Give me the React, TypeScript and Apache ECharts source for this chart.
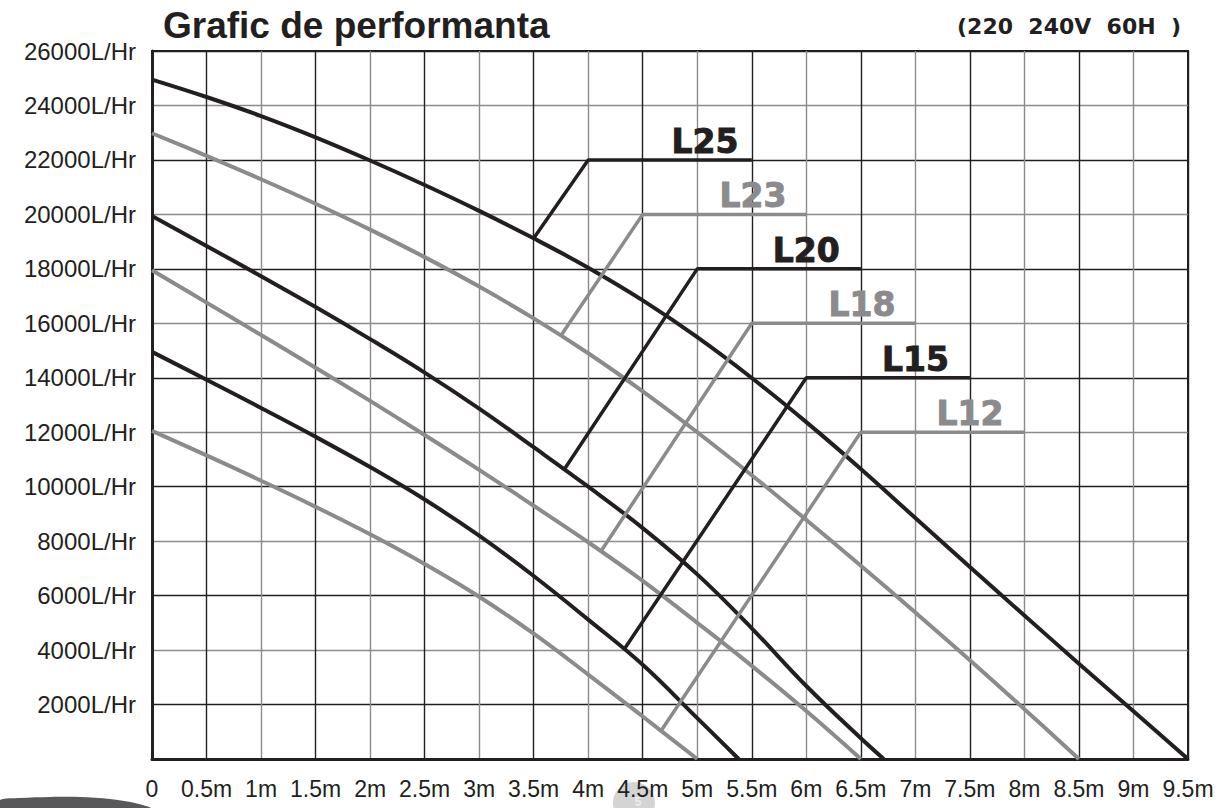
import React, { useEffect, useRef } from 'react';
import * as echarts from 'echarts';

const BLACK = '#231f20';
const GREY = '#8b8b8d';

// Tick labels
const xTickLabels = ['0', '0.5m', '1m', '1.5m', '2m', '2.5m', '3m', '3.5m', '4m', '4.5m', '5m', '5.5m', '6m', '6.5m', '7m', '7.5m', '8m', '8.5m', '9m', '9.5m'];
const yTickLabels = ['', '2000L/Hr', '4000L/Hr', '6000L/Hr', '8000L/Hr', '10000L/Hr', '12000L/Hr', '14000L/Hr', '16000L/Hr', '18000L/Hr', '20000L/Hr', '22000L/Hr', '24000L/Hr', '26000L/Hr'];

// Performance curves: head (m) and flow (L/Hr)
const l25Head = [0, 0.5, 1, 1.5, 2, 2.5, 3, 3.5, 4, 4.5, 5, 5.5, 6, 6.5, 7, 7.5, 8, 8.5, 9, 9.5];
const l25Flow = [24950, 24310, 23610, 22830, 21980, 21080, 20130, 19120, 18040, 16840, 15490, 13990, 12370, 10650, 8850, 7050, 5270, 3500, 1750, 0];
const l23Head = [0, 0.5, 1, 1.5, 2, 2.5, 3, 3.5, 4, 4.5, 5, 5.5, 6, 6.5, 7, 7.5, 8, 8.5];
const l23Flow = [22980, 22150, 21290, 20390, 19440, 18430, 17350, 16180, 14900, 13500, 12000, 10420, 8780, 7100, 5380, 3630, 1830, 0];
const l20Head = [0, 0.5, 1, 1.5, 2, 2.5, 3, 3.5, 4, 4.5, 5, 5.5, 6, 6.5, 6.71];
const l20Flow = [19940, 18840, 17730, 16600, 15420, 14190, 12870, 11450, 10000, 8480, 6780, 4800, 2680, 760, 0];
const l18Head = [0, 0.5, 1, 1.5, 2, 2.5, 3, 3.5, 4, 4.5, 5, 5.5, 6, 6.5];
const l18Flow = [17950, 16760, 15570, 14370, 13150, 11900, 10620, 9300, 7960, 6540, 5000, 3420, 1760, 0];
const l15Head = [0, 0.5, 1, 1.5, 2, 2.5, 3, 3.5, 4, 4.5, 5, 5.38];
const l15Flow = [14950, 13930, 12890, 11830, 10720, 9530, 8200, 6720, 5120, 3460, 1500, 0];
const l12Head = [0, 0.5, 1, 1.5, 2, 2.5, 3, 3.5, 4, 4.5, 5];
const l12Flow = [12050, 11150, 10220, 9260, 8250, 7160, 5960, 4600, 3100, 1560, 0];

// Label leaders
const modelNames = ['L25', 'L23', 'L20', 'L18', 'L15', 'L12'];
const modelColors = [BLACK, GREY, BLACK, GREY, BLACK, GREY];
const leaderBaseHead = [3.5, 3.75, 3.78, 4.12, 4.33, 4.67];
const leaderBaseFlow = [19120, 15550, 10630, 7650, 4030, 1050];
const leaderTopHead = [4, 4.5, 5, 5.5, 6, 6.5];
const leaderTopFlow = [22000, 20000, 18000, 16000, 14000, 12000];
const leaderEndHead = [5.5, 6, 6.5, 7, 7.5, 8];
const labelHead = [5.07, 5.51, 6, 6.51, 7, 7.5];

const curves = [
  { name: 'L25', head: l25Head, flow: l25Flow, color: BLACK },
  { name: 'L23', head: l23Head, flow: l23Flow, color: GREY },
  { name: 'L20', head: l20Head, flow: l20Flow, color: BLACK },
  { name: 'L18', head: l18Head, flow: l18Flow, color: GREY },
  { name: 'L15', head: l15Head, flow: l15Flow, color: BLACK },
  { name: 'L12', head: l12Head, flow: l12Flow, color: GREY },
];

export default function App() {
  const ref = useRef<HTMLDivElement>(null);
  useEffect(() => {
    const chart = echarts.init(ref.current as HTMLDivElement, null, { renderer: 'svg' });
    const series: any[] = [];
    curves.forEach((c) => {
      series.push({
        type: 'line',
        name: c.name,
        data: c.head.map((h, i) => [h, c.flow[i]]),
        smooth: 0.4,
        symbol: 'none',
        lineStyle: { color: c.color, width: 4 },
        z: 3,
      });
    });
    modelNames.forEach((n, i) => {
      series.push({
        type: 'line',
        name: n + ' leader',
        data: [
          [leaderBaseHead[i], leaderBaseFlow[i]],
          [leaderTopHead[i], leaderTopFlow[i]],
          [leaderEndHead[i], leaderTopFlow[i]],
        ],
        symbol: 'none',
        lineStyle: { color: modelColors[i], width: 3.5 },
        z: 4,
      });
    });
    series.push({
      type: 'scatter',
      name: 'labels',
      symbolSize: 0,
      z: 5,
      data: modelNames.map((n, i) => ({
        name: n,
        value: [labelHead[i], leaderTopFlow[i]],
        label: { color: modelColors[i], textBorderColor: modelColors[i] },
      })),
      label: {
        show: true,
        position: 'top',
        distance: 2,
        formatter: '{b}',
        fontSize: 33,
        fontWeight: 'bold',
        fontFamily: 'DejaVu Sans',
        textBorderWidth: 1,
        opacity: 1,
      },
    });

    chart.setOption({
      animation: false,
      backgroundColor: '#ffffff',
      grid: {
        left: 152,
        right: 40,
        top: 51,
        bottom: 49,
        show: true,
        borderColor: BLACK,
        borderWidth: 2,
      },
      xAxis: {
        type: 'value',
        min: 0,
        max: 9.5,
        interval: 0.5,
        axisLine: { show: true, lineStyle: { color: BLACK, width: 3 } },
        axisTick: { show: false },
        axisLabel: {
          margin: 18,
          fontSize: 23,
          fontFamily: 'Liberation Sans',
          color: BLACK,
          formatter: (v: number) => xTickLabels[Math.round(v / 0.5)] ?? '',
        },
        splitLine: { show: true, lineStyle: { color: [GREY, BLACK], width: 1.4 } },
      },
      yAxis: {
        type: 'value',
        min: 0,
        max: 26000,
        interval: 2000,
        axisLine: { show: true, lineStyle: { color: BLACK, width: 3 } },
        axisTick: { show: false },
        axisLabel: {
          margin: 16,
          fontSize: 24,
          fontFamily: 'Liberation Sans',
          color: BLACK,
          formatter: (v: number) => yTickLabels[Math.round(v / 2000)] ?? '',
        },
        splitLine: { show: true, lineStyle: { color: [GREY, BLACK], width: 1.4 } },
      },
      graphic: [
        {
          type: 'text',
          x: 163,
          y: 25,
          style: {
            text: 'Grafic de performanta',
            font: 'bold 37px "Liberation Sans"',
            fill: BLACK,
            align: 'left',
            verticalAlign: 'middle',
          },
        },
        {
          type: 'text',
          x: 1181,
          y: 26,
          style: {
            text: '(220  240V  60H  )',
            font: 'bold 22px "DejaVu Sans"',
            fill: BLACK,
            align: 'right',
            verticalAlign: 'middle',
          },
        },
        {
          type: 'polygon',
          z: -1,
          shape: {
            points: [[0, 808], [0, 800], [20, 798], [50, 797], [80, 797], [110, 799], [135, 803], [150, 808]],
            smooth: 0.3,
          },
          style: { fill: '#58585a' },
        },
        {
          type: 'circle',
          z: -1,
          shape: { cx: 634, cy: 803, r: 21 },
          style: { fill: '#d4d4d4' },
        },
        {
          type: 'text',
          z: -1,
          x: 638,
          y: 802,
          style: {
            text: '5',
            font: 'bold 12px "Liberation Sans"',
            fill: '#ececec',
            align: 'center',
            verticalAlign: 'middle',
          },
        },
      ],
      series,
    });
    return () => chart.dispose();
  }, []);
  return (
    <div
      ref={ref}
      style={{ position: 'fixed', left: 0, top: 0, width: 1228, height: 808, background: '#fff' }}
    />
  );
}
